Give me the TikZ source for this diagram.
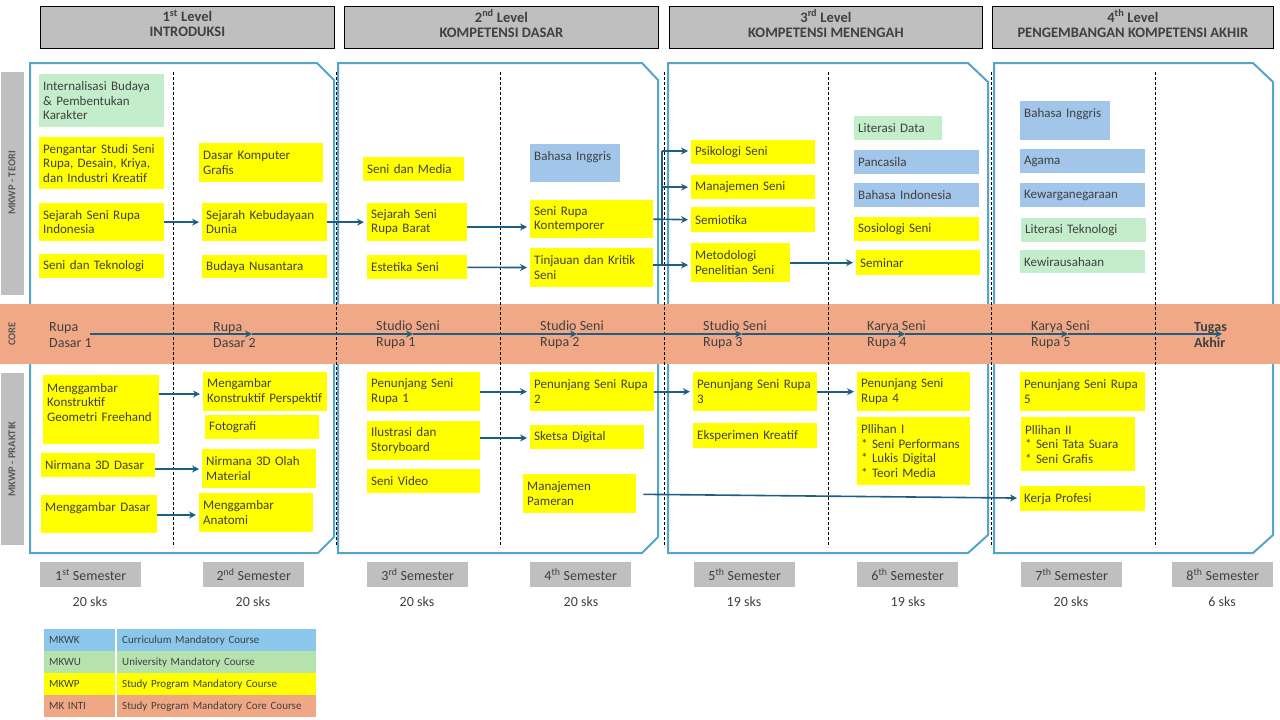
\documentclass[tikz,border=0pt]{standalone}
\usepackage{fontspec}
\setmainfont{Carlito}
\usetikzlibrary{arrows.meta}
\definecolor{lvlgray}{HTML}{BFBFBF}
\definecolor{framec}{HTML}{55A4CB}
\definecolor{corec}{HTML}{F1A886}
\definecolor{mkwp}{HTML}{FFFF00}
\definecolor{mkwu}{HTML}{C4EDCB}
\definecolor{mkwk}{HTML}{A2C6EA}
\definecolor{arrc}{HTML}{1F5E84}
\definecolor{txt}{HTML}{404040}
\definecolor{lblgray}{HTML}{595959}
\definecolor{lgblue}{HTML}{8AC7EA}
\definecolor{lggreen}{HTML}{B6E2AE}
\definecolor{lgorange}{HTML}{F0A884}

\begin{document}
\begin{tikzpicture}[>={Stealth[length=7pt,width=7pt]}, x=1pt, y=-1pt, font=\fontsize{13}{14.5}\selectfont,
  course/.style={anchor=north west, inner xsep=4pt, inner ysep=1pt, align=left, text=txt},
  wp/.style={course, fill=mkwp},
  wu/.style={course, fill=mkwu},
  wk/.style={course, fill=mkwk},
  level/.style={anchor=north west, draw=black, line width=0.8pt, fill=lvlgray, align=center, text=txt, minimum height=42pt, text depth=8pt, font=\fontsize{14.5}{15}\selectfont\bfseries},
  sem/.style={anchor=north west, fill=lvlgray, minimum width=101pt, minimum height=25pt, text=txt, font=\fontsize{14}{16}\selectfont},
  sks/.style={text=txt, font=\fontsize{14}{16}\selectfont},
  corelbl/.style={anchor=west, inner sep=0pt, align=left, text=txt, font=\fontsize{14}{16}\selectfont},
  side/.style={rotate=90, text=lblgray, font=\fontsize{10.5}{12}\selectfont\bfseries},
  frame/.style={draw=framec, line width=2pt},
  sep/.style={black, line width=0.7pt, dash pattern=on 3pt off 2pt},
  arr/.style={->, draw=arrc, line width=1.6pt, shorten >=3pt},
  corearr/.style={->, draw=arrc, line width=1.6pt},
  lgkey/.style={anchor=north west, inner xsep=5pt, text width=61pt, minimum height=22pt, align=left, text=txt, font=\fontsize{11}{12}\selectfont},
  lgdesc/.style={anchor=north west, inner xsep=5pt, text width=189pt, minimum height=22pt, align=left, text=txt, font=\fontsize{11}{12}\selectfont}]
 \useasboundingbox (0,0) rectangle (1280,720);

 % level headers
 \node[level, minimum width=294pt] (lv1) at (40,6) {1\textsuperscript{st} Level\\INTRODUKSI};
 \node[level, minimum width=314pt] (lv2) at (344,6) {2\textsuperscript{nd} Level\\KOMPETENSI DASAR};
 \node[level, minimum width=313pt] (lv3) at (669,6) {3\textsuperscript{rd} Level\\KOMPETENSI MENENGAH};
 \node[level, minimum width=281pt] (lv4) at (992,6) {4\textsuperscript{th} Level\\PENGEMBANGAN KOMPETENSI AKHIR};

 % level frames
 \draw[frame] (30,63) -- (317,63) -- (334,80) -- (334,537) -- (318,553) -- (30,553) -- cycle;
 \draw[frame] (338,63) -- (642,63) -- (658,80) -- (658,537) -- (642,553) -- (338,553) -- cycle;
 \draw[frame] (668,63) -- (968,63) -- (988,82) -- (988,535) -- (968,553) -- (668,553) -- cycle;
 \draw[frame] (994,63) -- (1253,63) -- (1273,82) -- (1273,535) -- (1253,553) -- (994,553) -- cycle;

 % core band and side strips
 \fill[corec] (0,304) rectangle (1280,364);
 \fill[lvlgray] (1,72) rectangle (24,295);
 \fill[lvlgray] (1,373) rectangle (24,545);
 \node[side] (sT) at (12,183) {MKWP - TEORI};
 \node[side] (sC) at (12,334) {CORE};
 \node[side] (sP) at (12,459) {MKWP - PRAKTIK};

 % semester separators
 \draw[sep] (173,72) -- (173,547);
 \draw[sep] (336,72) -- (336,547);
 \draw[sep] (500,72) -- (500,547);
 \draw[sep] (664,72) -- (664,547);
 \draw[sep] (828,72) -- (828,547);
 \draw[sep] (991,72) -- (991,547);
 \draw[sep] (1155,72) -- (1155,547);

 % MKWP - teori
 \node[wu, text width=117pt, minimum height=53pt] (t11) at (39,74) {Internalisasi Budaya\\\& Pembentukan\\Karakter};
 \node[wp, text width=117pt, minimum height=52pt] (t12) at (39,137) {Pengantar Studi Seni\\Rupa, Desain, Kriya,\\dan Industri Kreatif};
 \node[wp, text width=117pt, minimum height=38pt] (t13) at (39,203) {Sejarah Seni Rupa\\Indonesia};
 \node[wp, text width=117pt, minimum height=24pt] (t14) at (39,254) {Seni dan Teknologi};
 \node[wp, text width=116pt, minimum height=39pt] (t21) at (199,143) {Dasar Komputer\\Grafis};
 \node[wp, text width=117pt, minimum height=38pt] (t22) at (202,203) {Sejarah Kebudayaan\\Dunia};
 \node[wp, text width=117pt, minimum height=23pt] (t23) at (202,255) {Budaya Nusantara};
 \node[wp, text width=93pt, minimum height=24pt] (t31) at (363,157) {Seni dan Media};
 \node[wp, text width=92pt, minimum height=38pt] (t32) at (367,203) {Sejarah Seni\\Rupa Barat};
 \node[wp, text width=92pt, minimum height=24pt] (t33) at (367,255) {Estetika Seni};
 \node[wk, text width=82pt, minimum height=38pt] (t41) at (530,144) {Bahasa Inggris\\\mbox{}};
 \node[wp, text width=115pt, minimum height=38pt] (t42) at (530,200) {Seni Rupa\\Kontemporer};
 \node[wp, text width=115pt, minimum height=39pt] (t43) at (530,248) {Tinjauan dan Kritik\\Seni};
 \node[wp, text width=116pt, minimum height=24pt] (t51) at (691,140) {Psikologi Seni};
 \node[wp, text width=116pt, minimum height=24pt] (t52) at (691,175) {Manajemen Seni};
 \node[wp, text width=116pt, minimum height=25pt] (t53) at (691,207) {Semiotika};
 \node[wp, text width=91pt, minimum height=39pt] (t54) at (691,243) {Metodologi\\Penelitian Seni};
 \node[wu, text width=80pt, minimum height=24pt] (t61) at (854,116) {Literasi Data};
 \node[wk, text width=117pt, minimum height=24pt] (t62) at (854,150) {Pancasila};
 \node[wk, text width=117pt, minimum height=24pt] (t63) at (854,183) {Bahasa Indonesia};
 \node[wp, text width=117pt, minimum height=24pt] (t64) at (854,217) {Sosiologi Seni};
 \node[wp, text width=116pt, minimum height=25pt] (t65) at (856,250) {Seminar};
 \node[wk, text width=82pt, minimum height=39pt] (t71) at (1020,101) {Bahasa Inggris\\\mbox{}};
 \node[wk, text width=117pt, minimum height=24pt] (t72) at (1020,149) {Agama};
 \node[wk, text width=117pt, minimum height=24pt] (t73) at (1020,183) {Kewarganegaraan};
 \node[wu, text width=117pt, minimum height=24pt] (t74) at (1021,218) {Literasi Teknologi};
 \node[wu, text width=117pt, minimum height=23pt] (t75) at (1020,250) {Kewirausahaan};

 % MKWP - praktik
 \node[wp, text width=108pt, minimum height=69pt] (p11) at (43,375) {Menggambar\\Konstruktif\\Geometri Freehand\\\mbox{}};
 \node[wp, text width=106pt, minimum height=24pt] (p12) at (41,453) {Nirmana 3D Dasar};
 \node[wp, text width=108pt, minimum height=38pt] (p13) at (41,495) {Menggambar Dasar\\\mbox{}};
 \node[wp, text width=116pt, minimum height=39pt] (p21) at (203,372) {Mengambar\\Konstruktif Perspektif};
 \node[wp, text width=106pt, minimum height=24pt] (p22) at (205,415) {Fotografi};
 \node[wp, text width=106pt, minimum height=39pt] (p23) at (202,449) {Nirmana 3D Olah\\Material};
 \node[wp, text width=106pt, minimum height=39pt] (p24) at (199,493) {Menggambar\\Anatomi};
 \node[wp, text width=105pt, minimum height=39pt] (p31) at (367,372) {Penunjang Seni\\Rupa 1};
 \node[wp, text width=105pt, minimum height=39pt] (p32) at (367,421) {Ilustrasi dan\\Storyboard};
 \node[wp, text width=105pt, minimum height=24pt] (p33) at (367,469) {Seni Video};
 \node[wp, text width=116pt, minimum height=39pt] (p41) at (530,372) {Penunjang Seni Rupa\\2};
 \node[wp, text width=106pt, minimum height=24pt] (p42) at (530,425) {Sketsa Digital};
 \node[wp, text width=105pt, minimum height=39pt] (p43) at (523,474) {Manajemen\\Pameran};
 \node[wp, text width=116pt, minimum height=39pt] (p51) at (693,372) {Penunjang Seni Rupa\\3};
 \node[wp, text width=116pt, minimum height=25pt] (p52) at (693,423) {Eksperimen Kreatif};
 \node[wp, text width=105pt, minimum height=39pt] (p61) at (857,372) {Penunjang Seni\\Rupa 4};
 \node[wp, text width=105pt, minimum height=68pt] (p62) at (857,417) {Pllihan I\\{*} Seni Performans\\{*} Lukis Digital\\{*} Teori Media};
 \node[wp, text width=117pt, minimum height=39pt] (p71) at (1020,372) {Penunjang Seni Rupa\\5};
 \node[wp, text width=106pt, minimum height=54pt] (p72) at (1021,417) {Pllihan II\\{*} Seni Tata Suara\\{*} Seni Grafis};
 \node[wp, text width=117pt, minimum height=25pt] (p73) at (1020,486) {Kerja Profesi};

 % core courses
 \node[corelbl] (c1) at (49,335) {Rupa\\Dasar 1};
 \node[corelbl] (c2) at (213,335) {Rupa\\Dasar 2};
 \node[corelbl] (c3) at (376,335) {Studio Seni\\Rupa 1};
 \node[corelbl] (c4) at (540,335) {Studio Seni\\Rupa 2};
 \node[corelbl] (c5) at (703,335) {Studio Seni\\Rupa 3};
 \node[corelbl] (c6) at (867,335) {Karya Seni\\Rupa 4};
 \node[corelbl] (c7) at (1031,335) {Karya Seni\\Rupa 5};
 \node[corelbl, font=\fontsize{14}{16}\selectfont\bfseries] (c8) at (1194,335) {Tugas\\Akhir};
 \coordinate (a1) at (90,334);
 \coordinate (a2) at (252,334);
 \coordinate (a3) at (413,334);
 \coordinate (a4) at (577,334);
 \coordinate (a5) at (742,334);
 \coordinate (a6) at (905,334);
 \coordinate (a7) at (1068,334);
 \coordinate (a8) at (1222,334);
 \draw[corearr] (a1) -- (a2);
 \draw[corearr] (a2) -- (a3);
 \draw[corearr] (a3) -- (a4);
 \draw[corearr] (a4) -- (a5);
 \draw[corearr] (a5) -- (a6);
 \draw[corearr] (a6) -- (a7);
 \draw[corearr] (a7) -- (a8);

 % prerequisites teori
 \draw[arr] (t13) -- (t22);
 \draw[arr] (t22) -- (t32);
 \draw[arr] (t32.east |- 0,227) -- (t42.west |- 0,227);
 \draw[arr] (t33) -- (t43);
 \coordinate (brt) at (662,151);
 \coordinate (brb) at (662,265);
 \draw[arr] (t42.east) -- (t53.west);
 \draw[arr] (t43.east |- brb) -- (t54.west |- brb);
 \draw[draw=arrc, line width=1.6pt] (brb) -- (brt);
 \draw[arr] (brt) -- (t51.west |- brt);
 \draw[arr] (brb |- t52.west) -- (t52.west);
 \draw[arr] (t54) -- (t65);

 % prerequisites praktik
 \draw[arr] (p11.east |- 0,394) -- (p21.west |- 0,394);
 \draw[arr] (p12.east |- 0,469) -- (p23.west |- 0,469);
 \draw[arr] (p13.east |- 0,515) -- (p24.west |- 0,515);
 \draw[arr] (p31) -- (p41);
 \draw[arr] (p32.east |- 0,438) -- (p42.west |- 0,438);
 \draw[arr] (p41) -- (p51);
 \draw[arr] (p51) -- (p61);
 \draw[arr, shorten <=7pt] (p43) -- (p73);

 % semesters
 \node[sem] (sem1) at (40,562) {1\textsuperscript{st} Semester};
 \node[sem] (sem2) at (203,562) {2\textsuperscript{nd} Semester};
 \node[sem] (sem3) at (367,562) {3\textsuperscript{rd} Semester};
 \node[sem] (sem4) at (530,562) {4\textsuperscript{th} Semester};
 \node[sem] (sem5) at (694,562) {5\textsuperscript{th} Semester};
 \node[sem] (sem6) at (857,562) {6\textsuperscript{th} Semester};
 \node[sem] (sem7) at (1021,562) {7\textsuperscript{th} Semester};
 \node[sem] (sem8) at (1172,562) {8\textsuperscript{th} Semester};
 \node[sks] (sks1) at (90,602) {20 sks};
 \node[sks] (sks2) at (253,602) {20 sks};
 \node[sks] (sks3) at (417,602) {20 sks};
 \node[sks] (sks4) at (581,602) {20 sks};
 \node[sks] (sks5) at (744,602) {19 sks};
 \node[sks] (sks6) at (908,602) {19 sks};
 \node[sks] (sks7) at (1071,602) {20 sks};
 \node[sks] (sks8) at (1222,602) {6 sks};

 % legend
 \node[lgkey, fill=lgblue] (lk1) at (44,629) {MKWK};
 \node[lgdesc, fill=lgblue] (ld1) at (117,629) {Curriculum Mandatory Course};
 \node[lgkey, fill=lggreen] (lk2) at (44,651) {MKWU};
 \node[lgdesc, fill=lggreen] (ld2) at (117,651) {University Mandatory Course};
 \node[lgkey, fill=mkwp] (lk3) at (44,673) {MKWP};
 \node[lgdesc, fill=mkwp] (ld3) at (117,673) {Study Program Mandatory Course};
 \node[lgkey, fill=lgorange] (lk4) at (44,695) {MK INTI};
 \node[lgdesc, fill=lgorange] (ld4) at (117,695) {Study Program Mandatory Core Course};
\end{tikzpicture}
\end{document}
